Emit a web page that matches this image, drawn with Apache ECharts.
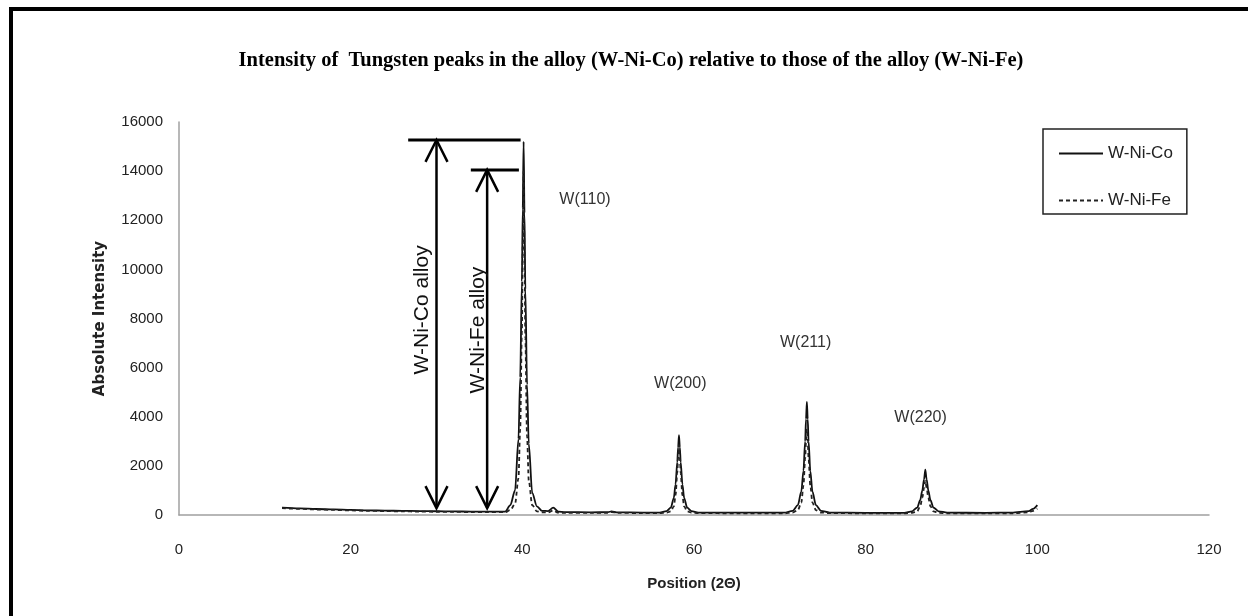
<!DOCTYPE html>
<html>
<head>
<meta charset="utf-8">
<script src="https://cdn.jsdelivr.net/npm/echarts@6/dist/echarts.min.js"></script>
<style>
  html, body { margin: 0; padding: 0; background: #fff; }
  #frame { position: absolute; left: 9px; top: 7px; width: 1239px; height: 609px;
           border-top: 4px solid #000; border-left: 4px solid #000; box-sizing: border-box; }
  #chart { position: absolute; left: 0; top: 0; width: 1248px; height: 616px; }
</style>
</head>
<body>
<div id="frame"></div>
<div id="chart"></div>
<script>
// ---- data ----
const positions = [
  12, 14, 16, 18, 20, 22, 24, 26, 28, 30, 32, 34, 36, 38.0, 38.6, 39.15, 39.55, 39.75, 39.95, 40.05, 40.15, 40.25, 40.35, 40.55, 40.75, 41.15, 41.7, 42.3, 43.0, 43.6, 44.2, 45, 48, 50, 50.4, 51, 54,
  56.0, 56.8, 57.3, 57.65, 57.85, 58.05, 58.15, 58.25, 58.35, 58.45, 58.65, 58.85, 59.2, 59.7, 60.5, 65,
  70.5, 71.5, 72.1, 72.5, 72.75, 72.95, 73.05, 73.15, 73.25, 73.35, 73.55, 73.8, 74.2, 74.8, 75.8, 80,
  84.5, 85.4, 86.0, 86.35, 86.6, 86.8, 86.95, 87.1, 87.3, 87.55, 87.9, 88.5, 89.5, 94, 97, 99, 99.5, 100
];
const wNiCo = [
  300, 270, 245, 225, 205, 190, 178, 168, 160, 152, 146, 140, 138, 140, 400, 1000, 3100, 5600, 9500, 12500, 15200, 12300, 9200, 5300, 2900, 900, 350, 170, 160, 300, 140, 120, 110, 115, 150, 110, 100,
  100, 160, 300, 700, 1250, 2150, 2750, 3250, 2750, 2150, 1250, 700, 300, 160, 100, 95,
  95, 170, 400, 950, 1800, 3000, 3900, 4600, 3900, 3000, 1800, 950, 400, 170, 100, 90,
  90, 150, 300, 600, 1000, 1450, 1850, 1450, 1000, 600, 300, 150, 95, 90, 100, 160, 250, 400
];
const wNiFe = [
  280, 250, 225, 205, 185, 170, 158, 148, 140, 132, 126, 120, 118, 115, 200, 450, 1500, 3500, 7500, 11000, 14000, 10800, 7200, 3200, 1400, 400, 150, 110, 100, 180, 95, 90, 85, 90, 120, 85, 80,
  75, 95, 150, 350, 800, 1700, 2350, 2850, 2350, 1700, 800, 350, 150, 95, 75, 70,
  70, 100, 200, 500, 1200, 2300, 3000, 3500, 3000, 2300, 1200, 500, 200, 100, 75, 70,
  65, 90, 150, 350, 700, 1100, 1400, 1100, 700, 350, 150, 90, 70, 65, 70, 110, 170, 260
];
const xTicks = [0, 20, 40, 60, 80, 100, 120];
const yTicks = [0, 2000, 4000, 6000, 8000, 10000, 12000, 14000, 16000];

// peak labels: [position, intensity, text]
const peakLabels = [
  [47.3, 12830, 'W(110)'],
  [58.4, 5370, 'W(200)'],
  [73.0, 7000, 'W(211)'],
  [86.4, 3950, 'W(220)']
];
// double arrows: [x, top, bottom, barStart, barEnd]
const arrows = [
  [30.0, 15270, 280, 26.7, 39.8],
  [35.9, 14050, 280, 34.0, 39.6]
];
// rotated arrow captions: [x, y, text]
const arrowCaptions = [
  [28.3, 8350, 'W-Ni-Co alloy'],
  [34.9, 7530, 'W-Ni-Fe alloy']
];

const coData = positions.map((p, i) => [p, wNiCo[i]]);
const feData = positions.map((p, i) => [p, wNiFe[i]]);

const chart = echarts.init(document.getElementById('chart'), null, { renderer: 'canvas' });
const axisFont = 'Liberation Sans, Arial, sans-serif';

chart.setOption({
  animation: false,
  backgroundColor: 'transparent',
  title: {
    text: 'Intensity of  Tungsten peaks in the alloy (W-Ni-Co) relative to those of the alloy (W-Ni-Fe)',
    left: 626, top: 45, textAlign: 'center',
    textStyle: { fontFamily: 'Liberation Serif, Times New Roman, serif', fontWeight: 'bold', fontSize: 20.5, color: '#000' }
  },
  legend: {
    orient: 'vertical', left: 1043, top: 129,
    padding: [16, 14, 5, 15],
    itemWidth: 44, itemHeight: 14, itemGap: 30,
    borderColor: '#222', borderWidth: 1.5,
    itemStyle: { opacity: 0 },
    textStyle: { fontFamily: axisFont, fontSize: 17, color: '#222' },
    data: ['W-Ni-Co', 'W-Ni-Fe']
  },
  grid: { left: 179, right: 39, top: 122, bottom: 101, containLabel: false },
  xAxis: {
    type: 'value', min: 0, max: 120, interval: 20,
    name: 'Position (2Θ)', nameLocation: 'middle', nameGap: 61,
    nameTextStyle: { fontFamily: axisFont, fontWeight: 'bold', fontSize: 15, color: '#222' },
    axisLine: { lineStyle: { color: '#a0a0a0', width: 1.5 } },
    axisTick: { show: false },
    splitLine: { show: false },
    axisLabel: { fontFamily: axisFont, fontSize: 15, color: '#222', margin: 27,
      customValues: xTicks, formatter: v => String(v) }
  },
  yAxis: {
    type: 'value', min: 0, max: 16000, interval: 2000,
    name: 'Absolute Intensity', nameLocation: 'middle', nameGap: 71,
    nameTextStyle: { fontFamily: 'DejaVu Sans, sans-serif', fontWeight: 'bold', fontSize: 15, color: '#222' },
    axisLine: { show: true, lineStyle: { color: '#a0a0a0', width: 1.5 } },
    axisTick: { show: false },
    splitLine: { show: false },
    axisLabel: { fontFamily: axisFont, fontSize: 15, color: '#222', margin: 16,
      customValues: yTicks, formatter: v => String(v) }
  },
  series: [
    {
      name: 'W-Ni-Co', type: 'line', data: coData, symbol: 'none',
      smooth: 0.3, smoothMonotone: 'x',
      lineStyle: { color: '#111', width: 1.8, type: 'solid' },
      itemStyle: { color: '#111' }, z: 3
    },
    {
      name: 'W-Ni-Fe', type: 'line', data: feData, symbol: 'none',
      smooth: 0.3, smoothMonotone: 'x',
      lineStyle: { color: '#222', width: 1.8, type: [4, 3] },
      itemStyle: { color: '#222' }, z: 4
    },
    {
      name: 'arrows', type: 'custom', data: arrows, silent: true, z: 5,
      encode: { x: [0, 3, 4], y: [1, 2] },
      renderItem: function (params, api) {
        const top = api.coord([api.value(0), api.value(1)]);
        const bot = api.coord([api.value(0), api.value(2)]);
        const b0 = api.coord([api.value(3), api.value(1)]);
        const b1 = api.coord([api.value(4), api.value(1)]);
        const hw = 11, hh = 22;
        const st = { stroke: '#000', lineWidth: 2.5, fill: null };
        return { type: 'group', children: [
          { type: 'line', shape: { x1: b0[0], y1: b0[1], x2: b1[0], y2: b1[1] }, style: { stroke: '#000', lineWidth: 3 } },
          { type: 'line', shape: { x1: top[0], y1: top[1], x2: bot[0], y2: bot[1] }, style: st },
          { type: 'polyline', shape: { points: [[top[0] - hw, top[1] + hh], [top[0], top[1]], [top[0] + hw, top[1] + hh]] }, style: st },
          { type: 'polyline', shape: { points: [[bot[0] - hw, bot[1] - hh], [bot[0], bot[1]], [bot[0] + hw, bot[1] - hh]] }, style: st }
        ]};
      }
    },
    {
      name: 'captions', type: 'custom', data: arrowCaptions.map(a => [a[0], a[1]]), silent: true, z: 5,
      renderItem: function (params, api) {
        const p = api.coord([api.value(0), api.value(1)]);
        return { type: 'text', x: p[0], y: p[1], rotation: Math.PI / 2,
          style: { text: arrowCaptions[params.dataIndex][2], fill: '#111', font: '21px Liberation Sans, Arial, sans-serif',
            align: 'center', verticalAlign: 'middle' } };
      }
    },
    {
      name: 'peaks', type: 'custom', data: peakLabels.map(a => [a[0], a[1]]), silent: true, z: 5,
      renderItem: function (params, api) {
        const p = api.coord([api.value(0), api.value(1)]);
        return { type: 'text', x: p[0], y: p[1],
          style: { text: peakLabels[params.dataIndex][2], fill: '#333', font: '16px Liberation Sans, Arial, sans-serif',
            align: 'center', verticalAlign: 'middle' } };
      }
    }
  ]
});
</script>
</body>
</html>
